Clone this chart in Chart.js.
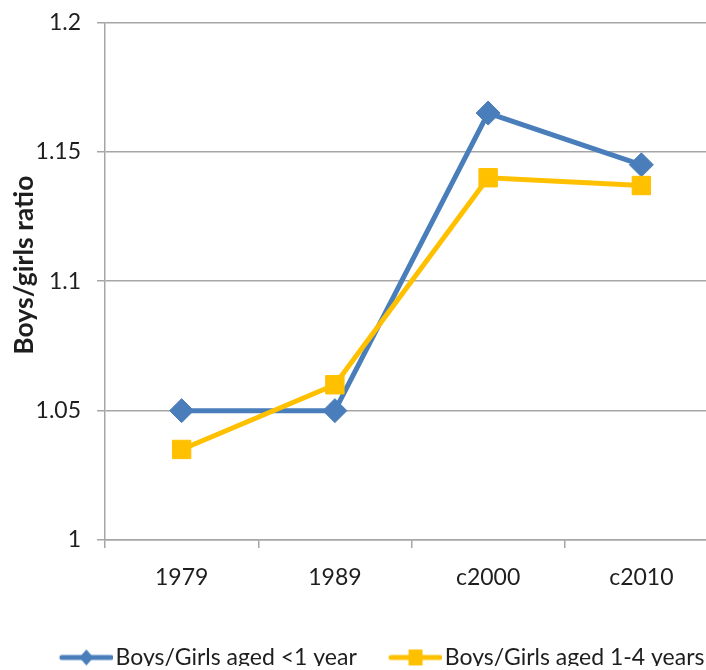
<!DOCTYPE html>
<html><head><meta charset="utf-8">
<script src="https://cdn.jsdelivr.net/npm/chart.js@4.4.1/dist/chart.umd.min.js"></script>
<style>html,body{margin:0;padding:0;background:#fff;overflow:hidden}#wrap{width:706px;height:670px;overflow:hidden;position:relative;background:#fff}canvas{display:block}</style>
</head><body><div id="wrap"><canvas id="c" width="732" height="670"></canvas></div>
<script>
const categories = ['1979', '1989', 'c2000', 'c2010'];
const boysGirlsUnder1 = [1.05, 1.05, 1.165, 1.145];
const boysGirls1to4 = [1.035, 1.06, 1.14, 1.137];
const seriesNames = ['Boys/Girls aged <1 year', 'Boys/Girls aged 1-4 years'];
const yTickValues = [1, 1.05, 1.1, 1.15, 1.2];
const yTitle = 'Boys/girls ratio';

const BLUE = '#4A7EBB';
const GOLD = '#FFC000';
const GRID = '#a6a6a6';
const TEXT = '#1e1e1e';
const FONT = "Lato, 'DejaVu Sans Condensed', sans-serif";

function legendImage(color, shape) {
  const c = document.createElement('canvas');
  c.width = 94; c.height = 24;
  const g = c.getContext('2d');
  const x0 = c.width - 53, cy = 12, mx = c.width - 26.5;
  g.strokeStyle = color; g.lineWidth = 5; g.lineCap = 'round';
  g.beginPath(); g.moveTo(x0 + 2, cy); g.lineTo(c.width - 2, cy); g.stroke();
  g.fillStyle = color;
  g.beginPath();
  if (shape === 'diamond') {
    g.moveTo(mx - 7, cy); g.lineTo(mx, cy - 8); g.lineTo(mx + 7, cy); g.lineTo(mx, cy + 8);
  } else {
    g.rect(mx - 7, cy - 8, 14, 16);
  }
  g.closePath(); g.fill();
  return c;
}

function draw() {
  const legendImgs = [legendImage(BLUE, 'diamond'), legendImage(GOLD, 'square')];
  new Chart(document.getElementById('c'), {
    type: 'line',
    data: {
      labels: categories,
      datasets: [
        { label: seriesNames[0], data: boysGirlsUnder1, borderColor: BLUE, backgroundColor: BLUE,
          borderWidth: 5, pointStyle: 'rectRot', pointRadius: 12, pointBorderWidth: 1,
          pointBackgroundColor: BLUE, pointBorderColor: BLUE, tension: 0, order: 1 },
        { label: seriesNames[1], data: boysGirls1to4, borderColor: GOLD, backgroundColor: GOLD,
          borderWidth: 5, pointStyle: 'rect', pointRadius: 13, pointBorderWidth: 1,
          pointBackgroundColor: GOLD, pointBorderColor: GOLD, tension: 0, order: 0 }
      ]
    },
    options: {
      responsive: false,
      animation: false,
      devicePixelRatio: 1,
      layout: { padding: { top: 22.5, left: 0, right: 0, bottom: 4 } },
      plugins: {
        tooltip: { enabled: false },
        legend: {
          position: 'bottom',
          maxHeight: 20,
          labels: {
            usePointStyle: true,
            pointStyleWidth: 76.5,
            padding: 0,
            color: TEXT,
            font: { family: FONT, size: 23 },
            sort: (a, b) => a.datasetIndex - b.datasetIndex,
            generateLabels: (chart) => Chart.defaults.plugins.legend.labels.generateLabels(chart)
              .map(l => Object.assign(l, { pointStyle: legendImgs[l.datasetIndex] }))
          }
        }
      },
      scales: {
        x: {
          type: 'category',
          offset: true,
          grid: { display: true, offset: true, drawOnChartArea: false, drawTicks: true, tickLength: 8, color: GRID, lineWidth: 1.5 },
          border: { display: true, color: GRID, width: 1.5 },
          ticks: { color: TEXT, font: { family: FONT, size: 23 }, padding: 16, maxRotation: 0, autoSkip: false },
          afterFit: s => { s.height = 106; }
        },
        y: {
          type: 'linear',
          position: 'left',
          min: 1, max: 1.2,
          afterBuildTicks: s => { s.ticks = yTickValues.map(v => ({ value: v })); },
          grid: { display: true, drawTicks: true, tickLength: 8, color: GRID, lineWidth: 1.5 },
          border: { display: true, color: GRID, width: 1.5 },
          ticks: { color: TEXT, font: { family: FONT, size: 23 }, padding: 16,
            callback: v => String(Number(v.toFixed(2))) },
          title: { display: true, text: '     ' + yTitle, color: TEXT, font: { family: FONT, size: 26.5, weight: 'bold' }, padding: { top: 9, bottom: 0 } },
          afterFit: s => { s.width = 105; s.paddingTop = 0; s.paddingBottom = 0; }
        },
        yRight: {
          type: 'linear',
          position: 'right',
          display: true,
          grid: { display: false, drawTicks: false },
          border: { display: false },
          ticks: { display: false },
          afterFit: s => { s.width = 5; s.paddingTop = 0; s.paddingBottom = 0; }
        }
      }
    }
  });
}
const fontsReady = document.fonts ? Promise.all([
  document.fonts.load("23px Lato"),
  document.fonts.load("bold 26px Lato")
]).catch(() => {}) : Promise.resolve();
fontsReady.then(draw, draw);
</script>
</body></html>
